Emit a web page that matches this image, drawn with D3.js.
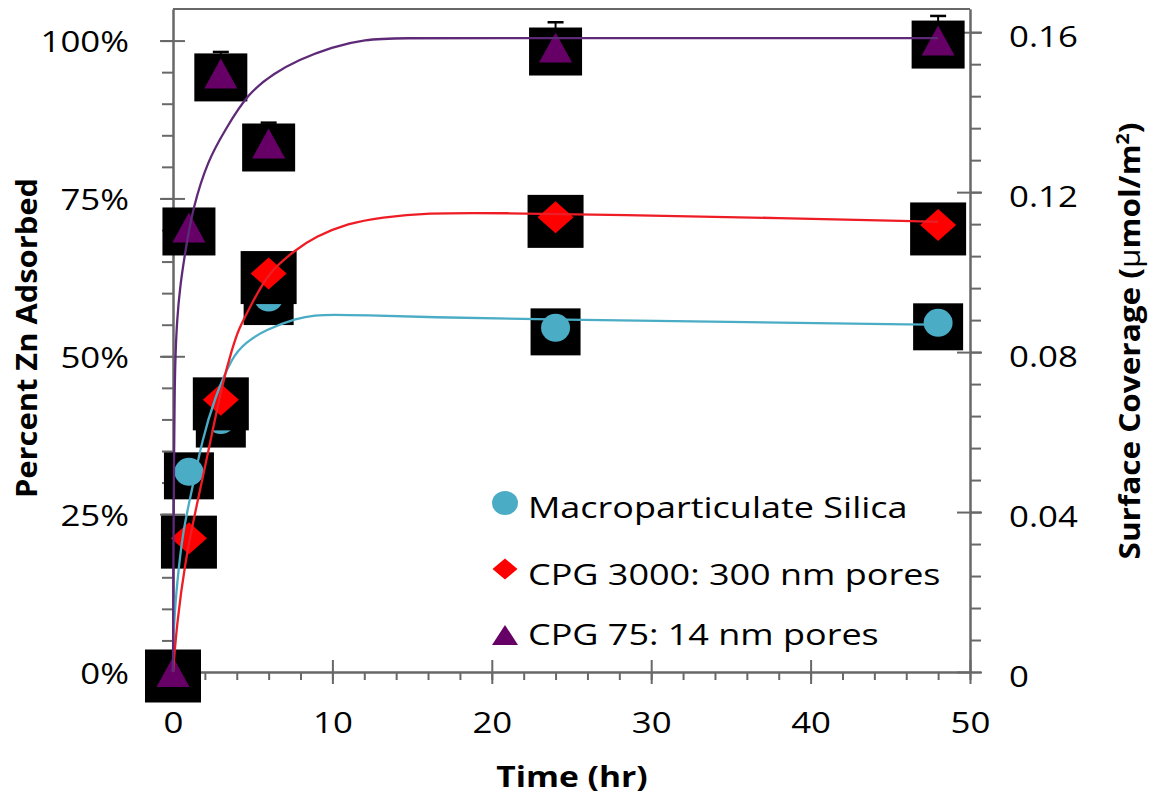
<!DOCTYPE html>
<html>
<head>
<meta charset="utf-8">
<script src="https://cdn.jsdelivr.net/npm/d3@7"></script>
<style>
  html, body { margin: 0; padding: 0; background: #fff; }
  svg { display: block; font-family: "Open Sans", sans-serif; }
</style>
</head>
<body>
<svg id="chart" width="1153" height="795"></svg>
<script>
// Sampling times (hr)
const times = [0, 1, 3, 6, 24, 48];

// Percent Zn adsorbed at each sampling time
const silicaPct  = [0, 31.7, 39.9, 59.3, 54.5, 55.3];
const cpg3000Pct = [0, 21.2, 43.1, 63.1, 72.0, 70.8];
const cpg75Pct   = [0, 70.4, 94.8, 83.7, 98.9, 100.0];
const cpg75Err   = [0, 0, 3.4, 3.3, 4.0, 3.9];

// Fitted uptake curves (time in hr, percent adsorbed)
const silicaFitT   = [0, 0.03, 0.25, 0.63, 1.19, 1.82, 2.63, 3.7, 4.52, 5.77, 7.84, 8.9, 10, 12, 15.8, 24, 36, 48];
const silicaFitPct = [0, 6.7, 14.1, 22.5, 28.8, 36.7, 43.5, 49.9, 52.1, 54.2, 56.1, 56.5, 56.6, 56.5, 56.2, 55.8, 55.4, 55.0];

const cpg3000FitT   = [0, 0.25, 0.75, 1.38, 2.2, 3.14, 3.7, 4.08, 4.96, 5.96, 7.65, 8.9, 11, 13.1, 15.8, 20.5, 28, 38, 48];
const cpg3000FitPct = [0, 7.8, 17.3, 25.2, 34.7, 46.2, 51.0, 54.2, 58.4, 63.2, 66.8, 68.9, 71.1, 72.0, 72.7, 72.7, 72.4, 71.9, 71.3];

const cpg75FitT   = [0, 0.03, 0.06, 0.1, 0.15, 0.25, 0.44, 0.75, 1.25, 2.2, 3.26, 4.7, 6.4, 7.84, 9.97, 12.05, 14.1, 20, 30, 40, 48];
const cpg75FitPct = [0, 20, 33, 44, 50, 55.7, 61.0, 66.3, 73.6, 81.1, 85.8, 91.7, 94.9, 96.9, 99.0, 100.2, 100.4, 100.4, 100.4, 100.4, 100.4];

// Labels
const seriesNames = ["Macroparticulate Silica", "CPG 3000: 300 nm pores", "CPG 75: 14 nm pores"];
const xTicks = [0, 10, 20, 30, 40, 50];
const leftTicks = [0, 0.25, 0.5, 0.75, 1];
const rightTicks = [0, 0.04, 0.08, 0.12, 0.16];

const svg = d3.select("#chart");
const axisColor = "#686868";
const textScale = 1.2;

const x  = d3.scaleLinear().domain([0, 50]).range([173, 970]);
const yL = d3.scaleLinear().domain([0, 1.05]).range([672, 9]);
const yR = d3.scaleLinear().domain([0, 0.1658]).range([672, 9]);

// ---------- axes ----------
function styleAxis(g) {
  g.selectAll("path.domain").attr("stroke", axisColor).attr("stroke-width", 2);
  g.selectAll(".tick line").attr("stroke", axisColor).attr("stroke-width", 2);
  g.attr("font-family", "Open Sans").attr("font-size", 29);
  g.selectAll(".tick text").attr("fill", "#000");
}

// top frame line
svg.append("line")
  .attr("x1", x(0)).attr("x2", x(50))
  .attr("y1", yL.range()[1]).attr("y2", yL.range()[1])
  .attr("stroke", axisColor).attr("stroke-width", 2);

// left axis: minor then major
svg.append("g").attr("transform", `translate(${x(0)},0)`)
  .call(d3.axisLeft(yL).tickValues(d3.range(0, 1.0001, 0.05)).tickSize(11).tickSizeOuter(0).tickFormat(""))
  .call(styleAxis);
const gL = svg.append("g").attr("transform", `translate(${x(0)},0)`)
  .call(d3.axisLeft(yL).tickValues(leftTicks).tickSize(13).tickSizeOuter(0).tickFormat(d3.format(".0%")))
  .call(styleAxis);
gL.selectAll(".tick line").attr("x1", 12);
gL.selectAll(".tick text").attr("x", null).attr("dy", null)
  .attr("transform", `translate(-44,11) scale(${textScale},1)`);

// right axis: minor then major
svg.append("g").attr("transform", `translate(${x(50)},0)`)
  .call(d3.axisRight(yR).tickValues(d3.range(0, 0.1601, 0.008)).tickSize(11).tickSizeOuter(0).tickFormat(""))
  .call(styleAxis);
const gR = svg.append("g").attr("transform", `translate(${x(50)},0)`)
  .call(d3.axisRight(yR).tickValues(rightTicks).tickSize(12).tickSizeOuter(0)
    .tickFormat(d => d === 0 ? "0" : d3.format(".2f")(d)))
  .call(styleAxis);
gR.selectAll(".tick line").attr("x1", -13);
gR.selectAll(".tick text").attr("x", null).attr("dy", null)
  .attr("transform", `translate(39,14) scale(${textScale},1)`);

// bottom axis: minor then major
svg.append("g").attr("transform", `translate(0,${yL(0)})`)
  .call(d3.axisBottom(x).tickValues(d3.range(0, 50.001, 2)).tickSize(8).tickSizeOuter(0).tickFormat(""))
  .call(styleAxis);
const gB = svg.append("g").attr("transform", `translate(0,${yL(0)})`)
  .call(d3.axisBottom(x).tickValues(xTicks).tickSize(12).tickSizeOuter(0).tickFormat(d3.format("d")))
  .call(styleAxis);
gB.selectAll(".tick line").attr("y1", -12);
gB.selectAll(".tick text").attr("y", null).attr("dy", null)
  .attr("transform", `translate(0,61) scale(${textScale},1)`);

// ---------- axis titles ----------
svg.append("text")
  .attr("transform", `translate(572,787) scale(${textScale},1)`)
  .attr("text-anchor", "middle").attr("font-weight", 700).attr("font-size", 28)
  .text("Time (hr)");

svg.append("text")
  .attr("transform", "translate(37,338) rotate(-90)")
  .attr("text-anchor", "middle").attr("font-weight", 700).attr("font-size", 29)
  .attr("textLength", 320).attr("lengthAdjust", "spacingAndGlyphs")
  .text("Percent Zn Adsorbed");

const rt = svg.append("text")
  .attr("transform", "translate(1140,341) rotate(-90)")
  .attr("text-anchor", "middle").attr("font-weight", 700).attr("font-size", 29)
  .attr("textLength", 437).attr("lengthAdjust", "spacingAndGlyphs");
rt.append("tspan").text("Surface Coverage (");
rt.append("tspan").attr("font-weight", 400).text("μ");
rt.append("tspan").text("mol/m");
rt.append("tspan").attr("font-size", 18).attr("dy", -11).text("2");
rt.append("tspan").attr("dy", 11).text(")");

// ---------- marker shapes ----------
const triPath = (cx, cy, w, h) => `M${cx},${cy - h / 2}L${cx + w / 2},${cy + h / 2}L${cx - w / 2},${cy + h / 2}Z`;
const diaPath = (cx, cy, w, h) => `M${cx},${cy - h / 2}L${cx + w / 2},${cy}L${cx},${cy + h / 2}L${cx - w / 2},${cy}Z`;

const series = [
  { name: seriesNames[0], values: silicaPct,  shape: "circle",   color: "#4bacc6", lineColor: "#4bacc6",
    box: [50, 47], size: [29, 28], fitT: silicaFitT, fitPct: silicaFitPct, legendY: 503, legendBase: 518 },
  { name: seriesNames[1], values: cpg3000Pct, shape: "diamond",  color: "#ff0000", lineColor: "#ee1c24",
    box: [56, 53], size: [36, 32], fitT: cpg3000FitT, fitPct: cpg3000FitPct, legendY: 569, legendBase: 585 },
  { name: seriesNames[2], values: cpg75Pct,   shape: "triangle", color: "#660066", lineColor: "#5e2a78",
    box: [53, 48], size: [33, 30], fitT: cpg75FitT, fitPct: cpg75FitPct, err: cpg75Err, legendY: 635, legendBase: 645 }
];

function drawShape(g, s, cx, cy, w, h) {
  if (s.shape === "circle") {
    g.append("ellipse").attr("cx", cx).attr("cy", cy).attr("rx", w / 2).attr("ry", h / 2).attr("fill", s.color);
  } else if (s.shape === "diamond") {
    g.append("path").attr("d", diaPath(cx, cy, w, h)).attr("fill", s.color);
  } else {
    g.append("path").attr("d", triPath(cx, cy, w, h)).attr("fill", s.color);
  }
}

// ---------- data markers ----------
series.forEach(s => {
  const g = svg.append("g");
  s.values.forEach((v, i) => {
    const cx = x(times[i]);
    const cy = yL(v / 100);
    if (s.err && s.err[i] > 0) {
      const top = yL((v + s.err[i]) / 100);
      const bot = yL((v - s.err[i]) / 100);
      g.append("line").attr("x1", cx).attr("x2", cx).attr("y1", top).attr("y2", bot)
        .attr("stroke", "#000").attr("stroke-width", 2);
      g.append("line").attr("x1", cx - 8).attr("x2", cx + 8).attr("y1", top).attr("y2", top)
        .attr("stroke", "#000").attr("stroke-width", 2.5);
    }
    g.append("rect")
      .attr("x", cx - s.box[0] / 2).attr("y", cy + 4 - s.box[1] / 2)
      .attr("width", s.box[0]).attr("height", s.box[1]).attr("fill", "#000");
    drawShape(g, s, cx, cy, s.size[0], s.size[1]);
  });
});

// ---------- fitted curves ----------
const line = d3.line()
  .x(d => x(d[0]))
  .y(d => yL(d[1] / 100))
  .curve(d3.curveBasis);

series.forEach(s => {
  svg.append("path")
    .datum(s.fitT.map((t, i) => [t, s.fitPct[i]]))
    .attr("d", line)
    .attr("fill", "none")
    .attr("stroke", s.lineColor)
    .attr("stroke-width", 2.3);
});

// ---------- legend ----------
const legendSizes = { circle: [26, 24], diamond: [25, 21], triangle: [26, 20] };
series.forEach(s => {
  const g = svg.append("g");
  const sz = legendSizes[s.shape];
  drawShape(g, s, 505, s.legendY, sz[0], sz[1]);
  g.append("text")
    .attr("transform", `translate(528,${s.legendBase}) scale(${textScale},1)`)
    .attr("font-size", 30).attr("fill", "#000")
    .text(s.name);
});
</script>
</body>
</html>
